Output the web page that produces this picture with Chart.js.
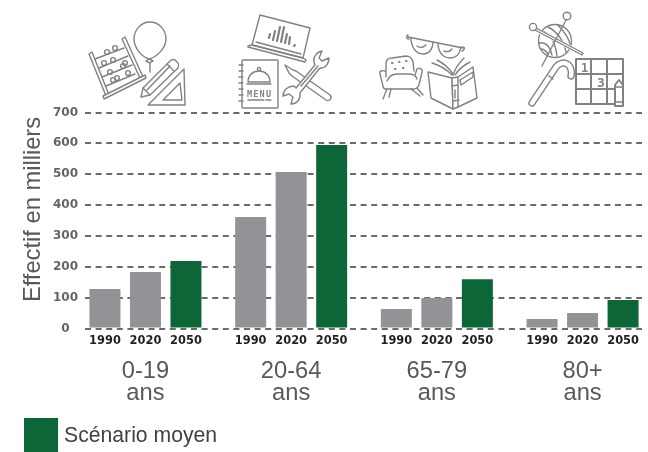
<!DOCTYPE html>
<html lang="fr">
<head>
<meta charset="utf-8">
<title>Effectif en milliers</title>
<script src="https://cdn.jsdelivr.net/npm/chart.js@4"></script>
<style>
  html, body { margin: 0; padding: 0; background: #fff; overflow: hidden; }
  #wrap { position: relative; width: 648px; height: 452px; }
  #wrap canvas { position: absolute; left: 0; top: 0; }
  #icons { position: absolute; left: 0; top: 0; }
  #icons * { fill: none; stroke: #808285; stroke-width: 1.4; stroke-linejoin: round; stroke-linecap: round; }
  #icons .w { stroke-width: 4.6; stroke: #fff; }
  #icons .k { stroke-width: 7.4; }
  #icons .g { stroke-width: 2; }
  #icons .b { fill: #fff; }
  #icons .p { stroke-width: 2.2; }
  #icons text { fill: #808285; stroke: none; font-family: "DejaVu Sans Mono", monospace; font-weight: bold; }
  #legend { position: absolute; left: 24px; top: 418px; display: flex; align-items: center; height: 34px;
            font: 21.2px "Liberation Sans", Arial, sans-serif; color: #414042; }
  #legend i { display: block; width: 34px; height: 34px; margin-right: 6px; }
</style>
</head>
<body>
<div id="wrap">
  <canvas id="chart" width="648" height="452"></canvas>
  <svg id="icons" width="648" height="112" viewBox="0 0 648 112">
    <!-- ballon -->
    <path d="M150 22c-9 0-16 8-16 17 0 9 8 18 15 20 8-2 17-11 17-20 0-9-7-17-16-17z"/>
    <path d="M146 61l3-2 4 2-3 2zM150 63v9"/>
    <!-- boulier -->
    <path d="M89 54l3-2 17 43-3 1zM122 39l3-2 18 40-3 1z"/>
    <path class="b" d="M103 96l42-21 1 3-42 21z"/>
    <path d="M95 59l29-11M99 68l29-12M102 77l30-12M106 86l29-12"/>
    <circle cx="107" cy="52" r="2.4"/><circle cx="115" cy="48" r="2.4"/>
    <circle cx="104" cy="63" r="2.4"/><circle cx="113" cy="60" r="2.4"/><circle cx="125" cy="63" r="2.4"/>
    <circle cx="110" cy="72" r="2.4"/><circle cx="123" cy="66" r="2.4"/>
    <circle cx="113" cy="80" r="2.4"/><circle cx="117" cy="78" r="2.4"/><circle cx="128" cy="73" r="2.4"/>
    <!-- equerre et crayon -->
    <path d="M148 105l36-36 1 36z"/>
    <path d="M163 100l17-17 2 17z"/>
    <path class="b" d="M141 97l2-9 27-27c2-2 5-2 6 0l1 1c2 2 2 5 0 7l-27 26z"/>
    <path d="M143 88l7 7M167 64l7 7M147 90l23-24"/>

    <!-- ordinateur -->
    <path d="M260 15l50 13-7 30-51-13z"/>
    <path d="M248 46l4-1 51 13 3 2-1 2-57-15z"/>
    <path d="M256 42l45 12"/>
    <path class="p" d="M269 38l1-4M273 40l2-9M277 41l3-14M281 42l3-15M285 43l2-9M289 44l1-7M294 46l1-1"/>
    <!-- menu -->
    <rect class="b" x="242" y="60" width="36" height="48" rx="1"/>
    <path d="M239 65h4M239 71h4M239 77h4M239 83h4M239 89h4M239 95h4M239 101h4"/>
    <path d="M248 82c0-7 5-11 11-11s11 4 11 11zM247 84h24"/>
    <circle cx="259" cy="69" r="1.6"/>
    <text x="247" y="97" font-size="8.5" textLength="24">MENU</text>
    <path d="M248 100h16M266 100h5"/>
    <!-- tournevis et cle -->
    <path d="M285 65l8 5 3 1 34 24c3 3-1 7-4 5l-34-24-3-3z"/>
    <path class="b" d="M296 88l19-23c-3-6 0-11 4-13l3-1-3 7 3 3 7-3c0 5-3 10-8 10l-2 1-19 24c1 6-3 11-9 11l2-7-4-3-6 2c0-6 5-10 11-10z"/>
    <path d="M301 86l17-20"/>

    <!-- lunettes -->
    <path d="M408 37l55 11"/>
    <path d="M408 35c-2 1-2 4 1 4M463 47c2 0 2 3-1 4"/>
    <path d="M411 38c0 9 5 16 12 16 7 0 10-6 10-12M438 43c0 9 5 15 12 15 7 0 10-5 11-11"/>
    <path d="M417 46c3 2 6 2 9-1M444 51c3 1 6 1 8-2"/>
    <!-- fauteuil -->
    <path d="M386 77V64c0-4 2-6 6-6l14-2c4 0 6 2 7 6l1 9"/>
    <path d="M387 81c2-5 6-7 10-7h11c4 0 8 1 9 5"/>
    <path d="M385 71c-3-1-6 0-5 3l3 12c0 2 1 3 3 3h28c3 0 4-2 5-4l3-13c1-3-3-5-5-3l-2 6"/>
    <path d="M387 89l-4 10M391 89l-2 8M411 89l9 7M417 88l6 7"/>
    <path class="p" d="M392 63h.5M399 62h.5M406 61h.5M395 69h.5M403 68h.5"/>
    <!-- livre -->
    <path d="M432 63c7 2 15 7 20 12M437 60c6 3 12 8 16 14M453 75c2-6 6-12 11-17M455 75c4-6 9-10 15-13"/>
    <path class="b" d="M428 72l24 6 1 31-22-11z"/>
    <path class="b" d="M452 78l6-1 15-10 4 31-19 9-5 2z"/>
    <path d="M458 77v30M452 86l6-1M453 101l6-1M455 90v8M460 80l13-8v5l-12 8z"/>

    <!-- pelote -->
    <circle cx="555" cy="41" r="16.5"/>
    <path d="M542 31c6 2 13 9 15 25M548 27c8 4 16 13 18 25M558 25c4 5 10 10 12 19M539 43c6-1 11 3 13 12M541 49c3 0 5 2 7 5"/>
    <path class="w" d="M536 30l47 24"/>
    <path d="M536 28l47 25-1 2-47-25z"/>
    <circle class="b" cx="533" cy="27" r="3.6"/>
    <path d="M566 20l-24 46"/>
    <circle class="b" cx="567" cy="16" r="3.8"/>
    <!-- canne -->
    <path class="k" d="M532 103l24-36c3-4 8-5 11-3 4 2 5 8 4 12"/>
    <path class="w" d="M532 103l24-36c3-4 8-5 11-3 4 2 5 8 4 12"/>
    <path d="M549 76l4 3"/>
    <!-- sudoku -->
    <path class="g" d="M576 59h47v45h-47zM591 59v45M607 59v45M576 74h47M576 89h47"/>
    <text x="581" y="72" font-size="12">1</text>
    <text x="597" y="87" font-size="13">3</text>
    <path class="b g" d="M615 106V85l4-5 4 5v21z"/>
    <path d="M615 87h8M615 102h8"/>
  </svg>
  <div id="legend"><i id="legend-box"></i><span>Scénario moyen</span></div>
</div>
<script>
// Données
const groupes = ['0-19', '20-64', '65-79', '80+'];
const annees = ['1990', '2020', '2050'];
const valeurs1990 = [128, 361, 63, 31];
const valeurs2020 = [183, 507, 99, 50];
const valeurs2050 = [219, 595, 160, 92];
const yTicks = [0, 100, 200, 300, 400, 500, 600, 700];

const GRIS = '#929396';
const VERT = '#0d6638';
const TEXTE = '#58595b';

document.getElementById('legend-box').style.background = VERT;

const points = vals => vals.map((v, i) => ({ x: i, y: v }));

// Années sous chaque barre + titre vertical
const labelsPlugin = {
    id: 'labelsPlugin',
    afterDatasetsDraw(chart) {
        const ctx = chart.ctx;
        const bas = chart.scales.y.getPixelForValue(0);
        ctx.save();
        ctx.font = 'bold 11.4px "DejaVu Sans"';
        ctx.fillStyle = '#231f20';
        ctx.textAlign = 'center';
        ctx.textBaseline = 'middle';
        annees.forEach((an, d) => {
            chart.getDatasetMeta(d).data.forEach(bar => ctx.fillText(an, bar.x, bas + 12.5));
        });
        ctx.translate(33, 209.5);
        ctx.rotate(-Math.PI / 2);
        ctx.font = '23.7px "Liberation Sans"';
        ctx.fillStyle = TEXTE;
        ctx.fillText('Effectif en milliers', 0, 0);
        ctx.restore();
    }
};

new Chart(document.getElementById('chart').getContext('2d'), {
    type: 'bar',
    data: {
        datasets: [
            { label: annees[0], data: points(valeurs1990), backgroundColor: GRIS },
            { label: annees[1], data: points(valeurs2020), backgroundColor: GRIS },
            { label: annees[2], data: points(valeurs2050), backgroundColor: VERT }
        ]
    },
    options: {
        responsive: false,
        animation: false,
        categoryPercentage: 0.834,
        barPercentage: 0.765,
        layout: { padding: { top: 112.5, right: 6, bottom: 0, left: 0 } },
        plugins: { legend: { display: false }, tooltip: { enabled: false } },
        scales: {
            x: {
                type: 'linear',
                offset: false,
                min: -0.415,
                max: 3.408,
                grid: { display: false },
                border: { display: false },
                afterBuildTicks: scale => { scale.ticks = groupes.map((g, i) => ({ value: i })); },
                afterFit: scale => { scale.height = 123.5; },
                ticks: {
                    autoSkip: false,
                    maxRotation: 0,
                    padding: 24,
                    color: TEXTE,
                    font: { family: '"Liberation Sans"', size: 23.7, lineHeight: 0.93 },
                    callback: v => [groupes[v], 'ans']
                }
            },
            y: {
                min: 0,
                max: 700,
                afterBuildTicks: scale => { scale.ticks = yTicks.map(v => ({ value: v })); },
                afterFit: scale => { scale.width = 85; },
                grid: { color: '#6a6b6e', lineWidth: 2, drawTicks: false },
                border: { display: false, dash: [6, 4.6] },
                ticks: {
                    padding: 7,
                    crossAlign: 'center',
                    color: '#636466',
                    font: { family: '"DejaVu Sans"', size: 12, weight: 'bold' }
                }
            }
        }
    },
    plugins: [labelsPlugin]
});
</script>
</body>
</html>
